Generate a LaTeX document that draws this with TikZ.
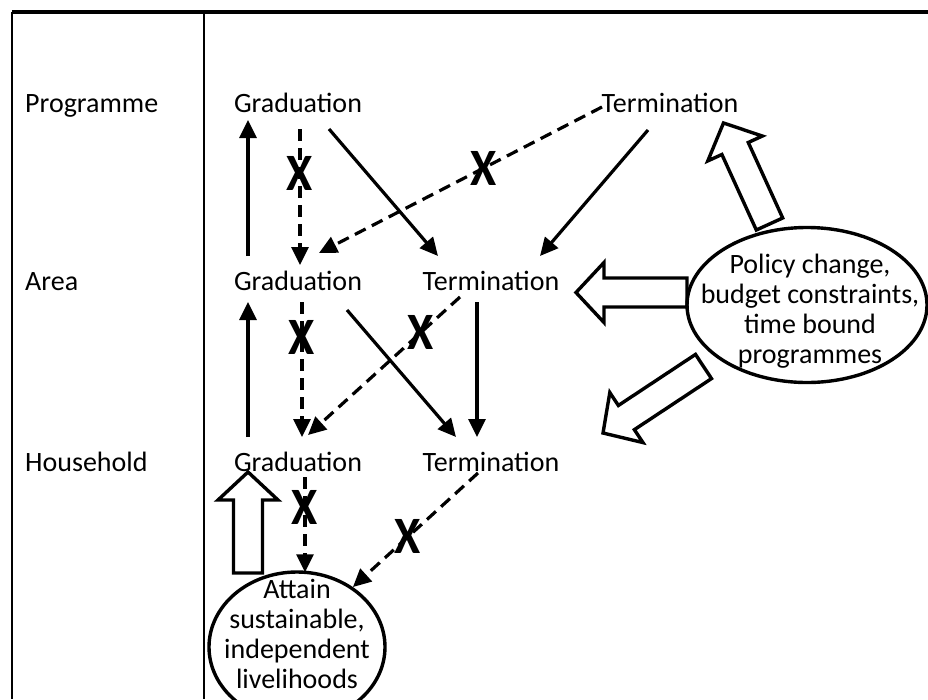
\documentclass[tikz,border=0pt]{standalone}
\usepackage{fontspec}
\setmainfont{Carlito}
\usetikzlibrary{arrows.meta,calc,shapes.geometric}
\newcommand\blockarrow[3]{%
  \begin{scope}[shift={#1},rotate=#2]
    \draw[bigarr] (0,-14.5) -- ({#3-28},-14.5) -- ({#3-28},-30) -- (#3,0) -- ({#3-28},30) -- ({#3-28},14.5) -- (0,14.5) -- cycle;
  \end{scope}}
\begin{document}
\begin{tikzpicture}[x=1pt,y=-1pt,
  txt/.style={anchor=base,inner sep=0pt,text height=19pt,text depth=6pt,font=\fontsize{28}{30}\selectfont},
  bigtxt/.style={inner sep=0pt,align=center,font=\fontsize{28}{30}\selectfont},
  solidarr/.style={line width=3.2pt,-{Triangle[length=18pt,width=17pt]}},
  dasharr/.style={solidarr,dash pattern=on 12pt off 7pt},
  xmark/.style={inner sep=0pt,font=\fontsize{50}{50}\selectfont\bfseries},
  bigarr/.style={line width=3.4pt,fill=white,line join=miter},
  oval/.style={ellipse,draw,line width=3.4pt,inner sep=0pt},
  framel/.style={line width=2.6pt}]
\useasboundingbox (0,0) rectangle (928,699);
% frame
\draw[framel,line width=3.4pt] (12,12) -- (928,12);
\draw[framel] (12,12) -- (12,699);
\draw[framel,line width=2.4pt] (204,12) -- (204,699);
% row labels
\node[txt,anchor=base west] (lp) at (25,112) {Programme};
\node[txt,anchor=base west] (la) at (25,290) {Area};
\node[txt,anchor=base west] (lh) at (25,471) {Household};
% level nodes
\node[txt] (pg) at (298,112) {Graduation};
\node[txt] (pt) at (670,112) {Termination};
\node[txt] (ag) at (298,290) {Graduation};
\node[txt] (at) at (491,290) {Termination};
\node[txt] (hg) at (298,471) {Graduation};
\node[txt] (ht) at (491,471) {Termination};
% goal ellipse
\node[oval,minimum width=176pt,minimum height=150pt] (att) at (297,647) {};
\node[bigtxt,anchor=north] (attt) at (297,579) {Attain\\sustainable,\\independent\\livelihoods};
% thin arrows
\draw[solidarr] ($(ag.base)+(-50,-34)$) -- ($(pg.base)+(-50,8)$);
\draw[solidarr] ($(hg.base)+(-50,-34)$) -- ($(ag.base)+(-50,12)$);
\draw[dasharr] ($(pg.base)+(2,17)$) -- ($(ag.base)+(2,-25)$) node[xmark,pos=0.33] (x1) {\scalebox{0.95}[1.05]{X}};
\draw[solidarr] ($(pg.base)+(31,17)$) -- ($(at.base)+(-53,-34)$);
\draw[dasharr] ($(pt.base)+(-68,-5)$) -- ($(ag.base)+(21,-37)$) node[xmark,pos=0.42] (x2) {\scalebox{0.95}[1.05]{X}};
\draw[solidarr] ($(pt.base)+(-22,18)$) -- ($(at.base)+(49,-34)$);
\draw[dasharr] ($(ag.base)+(4,12)$) -- ($(hg.base)+(4,-34)$) node[xmark,pos=0.26] (x3) {\scalebox{0.95}[1.05]{X}};
\draw[solidarr] ($(ag.base)+(49,20)$) -- ($(ht.base)+(-35,-34)$);
\draw[dasharr] ($(at.base)+(-31,7)$) -- ($(hg.base)+(10,-36)$) node[xmark,pos=0.26] (x4) {\scalebox{0.95}[1.05]{X}};
\draw[solidarr] ($(at.base)+(-14,12)$) -- ($(ht.base)+(-14,-34)$);
\draw[dasharr] ($(hg.base)+(7,6)$) -- ($(att.north)+(8,2)$) node[xmark,pos=0.32] (x5) {\scalebox{0.95}[1.05]{X}};
\draw[dasharr] ($(ht.base)+(-13,2)$) -- (att.47) node[xmark,pos=0.56] (x6) {\scalebox{0.95}[1.05]{X}};
% block arrows
\blockarrow{(248,573)}{90}{101}
\blockarrow{(687,292.5)}{180}{111}
\blockarrow{(769.5,224)}{114.5}{111}
\blockarrow{(703.5,366.5)}{213.5}{120.5}
% policy ellipse
\node[oval,minimum width=240pt,minimum height=155pt] (pol) at (807,305) {};
\node[bigtxt,anchor=north] (polt) at (810,254) {Policy change,\\budget constraints,\\time bound\\programmes};
\end{tikzpicture}
\end{document}
